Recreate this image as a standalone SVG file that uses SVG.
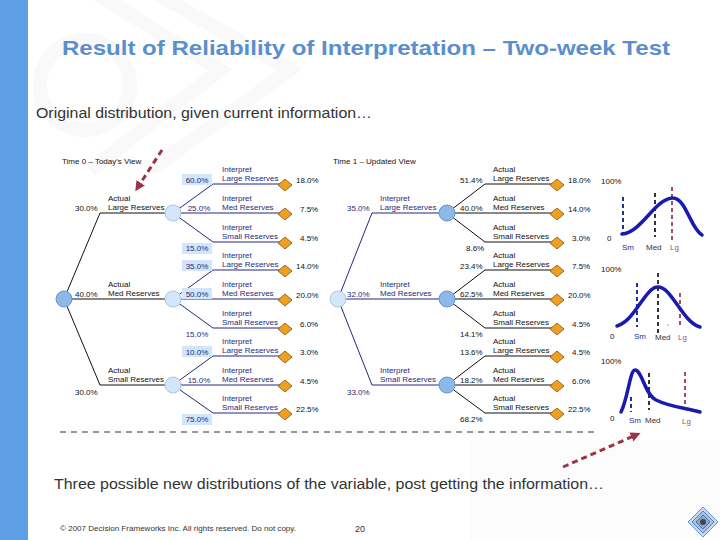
<svg xmlns="http://www.w3.org/2000/svg" width="720" height="540" viewBox="0 0 720 540">
<style>
text{font-family:"Liberation Sans",Arial,sans-serif}
.t8{font-size:8px}
.nv{fill:#1f2a7a}
.bk{fill:#111}
.ln{stroke:#111;stroke-width:1;fill:none}
.lb{stroke:#25287e;stroke-width:1;fill:none}
.cd{fill:#8db8ea;stroke:#6a95c8;stroke-width:1}
.cl{fill:#d4e6fa;stroke:#a8c6e8;stroke-width:1}
.dm{fill:#f0a020;stroke:#7a5010;stroke-width:0.8}
.bx{fill:#d3e5f8}
.cur{fill:none;stroke:#1a1ab0;stroke-width:3.5;stroke-linecap:round}
.db{stroke:#1a2fa8;stroke-width:2;stroke-dasharray:4 3}
.dk{stroke:#333;stroke-width:2;stroke-dasharray:4 3}
.dr{stroke:#a05060;stroke-width:2;stroke-dasharray:4 3}
.arr{stroke:#9c3448;stroke-width:3;stroke-dasharray:6 4;fill:none}
</style>
<defs>
<marker id="ah" markerWidth="10" markerHeight="10" refX="5" refY="5" orient="auto" markerUnits="userSpaceOnUse"><path d="M0,0 L10,5 L0,10 z" fill="#9c3448"/></marker>
<polygon id="dia" points="0,-6 7,0 0,6 -7,0" class="dm"/>
</defs>
<rect width="720" height="540" fill="#fff"/>
<g id="watermark" fill="none" stroke="#f9f9f9" stroke-width="14">
<polyline points="90,-10 220,70 90,170"/>
<polyline points="150,-10 290,70 150,170"/>
<circle cx="85" cy="85" r="45"/>
</g>
<rect x="470" y="440" width="250" height="100" fill="#fcfcfc"/>
<rect x="0" y="0" width="28" height="540" fill="#5d9fe2"/>
<text x="62" y="55" font-size="21" font-weight="bold" fill="#5b8fcc" textLength="608" lengthAdjust="spacingAndGlyphs">Result of Reliability of Interpretation – Two-week Test</text>
<text x="36" y="118" font-size="14" fill="#333" textLength="336" lengthAdjust="spacingAndGlyphs">Original distribution, given current information…</text>
<text class="t8 bk" x="62" y="164">Time 0 – Today's View</text>
<text class="t8 bk" x="333" y="164">Time 1 – Updated View</text>

<g id="connectors">
<path class="ln" d="M64,299 L100,213 L165,213 M64,299 L165,299 M64,299 L100,385 L165,385"/>
<path class="lb" d="M173,213 L213,184 L285,184 M173,213 L285,213 M173,213 L213,242 L285,242"/>
<path class="lb" d="M173,299 L213,270 L285,270 M173,299 L285,299 M173,299 L213,328 L285,328"/>
<path class="lb" d="M173,385 L213,356 L285,356 M173,385 L285,385 M173,385 L213,413 L285,413"/>
<path class="lb" d="M338,299 L372,213 L440,213 M338,299 L440,299 M338,299 L372,385 L440,385"/>
<path class="ln" d="M447,213 L485,184 L557,184 M447,213 L557,213 M447,213 L485,242 L557,242"/>
<path class="ln" d="M447,299 L485,270 L557,270 M447,299 L557,299 M447,299 L485,328 L557,328"/>
<path class="ln" d="M447,385 L485,356 L557,356 M447,385 L557,385 M447,385 L485,413 L557,413"/>
<line x1="60" y1="432" x2="595" y2="432" stroke="#333" stroke-width="1" stroke-dasharray="6 5"/>
<line class="arr" x1="162" y1="150" x2="138" y2="187" marker-end="url(#ah)"/>
<line class="arr" x1="563" y1="467" x2="636" y2="435" marker-end="url(#ah)"/>
</g>

<g id="left-root"><circle class="cd" cx="64" cy="299" r="8"/></g>
<g id="left-labels">
<text class="t8 bk" x="75" y="211">30.0%</text>
<text class="t8 bk" x="75" y="297">40.0%</text>
<text class="t8 bk" x="75" y="395">30.0%</text>
<text class="t8 bk" x="108" y="201">Actual</text><text class="t8 bk" x="108" y="210">Large Reserves</text>
<text class="t8 bk" x="108" y="287">Actual</text><text class="t8 bk" x="108" y="296">Med Reserves</text>
<text class="t8 bk" x="108" y="373">Actual</text><text class="t8 bk" x="108" y="382">Small Reserves</text>
</g>
<g id="left-c1"><circle class="cl" cx="173" cy="213" r="8"/></g>
<g id="left-c2"><circle class="cl" cx="173" cy="299" r="8"/></g>
<g id="left-c3"><circle class="cl" cx="173" cy="385" r="8"/></g>
<g id="left-probs" class="t8 nv" text-anchor="middle">
<rect class="bx" x="182" y="174" width="30" height="11"/><text x="197" y="183">60.0%</text>
<text x="199" y="211">25.0%</text>
<rect class="bx" x="182" y="243" width="30" height="11"/><text x="197" y="251">15.0%</text>
<rect class="bx" x="182" y="260" width="30" height="11"/><text x="197" y="269">35.0%</text>
<rect class="bx" x="182" y="288" width="30" height="11"/><text x="197" y="297">50.0%</text>
<text x="197" y="337">15.0%</text>
<rect class="bx" x="182" y="346" width="30" height="11"/><text x="197" y="355">10.0%</text>
<text x="199" y="383">15.0%</text>
<rect class="bx" x="182" y="414" width="30" height="11"/><text x="197" y="422">75.0%</text>
</g>
<g id="left-leaves">
<g class="t8 nv">
<text x="222" y="172">Interpret</text><text x="222" y="181">Large Reserves</text>
<text x="222" y="201">Interpret</text><text x="222" y="210">Med Reserves</text>
<text x="222" y="230">Interpret</text><text x="222" y="239">Small Reserves</text>
<text x="222" y="258">Interpret</text><text x="222" y="267">Large Reserves</text>
<text x="222" y="287">Interpret</text><text x="222" y="296">Med Reserves</text>
<text x="222" y="316">Interpret</text><text x="222" y="325">Small Reserves</text>
<text x="222" y="344">Interpret</text><text x="222" y="353">Large Reserves</text>
<text x="222" y="373">Interpret</text><text x="222" y="382">Med Reserves</text>
<text x="222" y="401">Interpret</text><text x="222" y="410">Small Reserves</text>
</g>
<use href="#dia" x="285" y="185"/><use href="#dia" x="285" y="214"/><use href="#dia" x="285" y="243"/>
<use href="#dia" x="285" y="271"/><use href="#dia" x="285" y="300"/><use href="#dia" x="285" y="329"/>
<use href="#dia" x="285" y="357"/><use href="#dia" x="285" y="386"/><use href="#dia" x="285" y="414"/>
<g class="t8 bk">
<text x="296" y="183">18.0%</text><text x="300" y="212">7.5%</text><text x="300" y="241">4.5%</text>
<text x="296" y="269">14.0%</text><text x="296" y="298">20.0%</text><text x="300" y="327">6.0%</text>
<text x="300" y="355">3.0%</text><text x="300" y="384">4.5%</text><text x="296" y="412">22.5%</text>
</g>
</g>

<g id="right-root"><circle class="cl" cx="338" cy="299" r="8"/></g>
<g id="right-labels">
<text class="t8 nv" x="347" y="211">35.0%</text>
<text class="t8 nv" x="347" y="297">32.0%</text>
<text class="t8 nv" x="347" y="395">33.0%</text>
<g class="t8 nv">
<text x="380" y="201">Interpret</text><text x="380" y="210">Large Reserves</text>
<text x="380" y="287">Interpret</text><text x="380" y="296">Med Reserves</text>
<text x="380" y="373">Interpret</text><text x="380" y="382">Small Reserves</text>
</g>
</g>
<g id="right-c1"><circle class="cd" cx="447" cy="213" r="8"/></g>
<g id="right-c2"><circle class="cd" cx="447" cy="299" r="8"/></g>
<g id="right-c3"><circle class="cd" cx="447" cy="385" r="8"/></g>
<g id="right-probs" class="t8 bk">
<text x="460" y="183">51.4%</text><text x="460" y="211">40.0%</text><text x="466" y="251">8.6%</text>
<text x="460" y="269">23.4%</text><text x="460" y="297">62.5%</text><text x="460" y="337">14.1%</text>
<text x="460" y="355">13.6%</text><text x="460" y="383">18.2%</text><text x="460" y="422">68.2%</text>
</g>
<g id="right-leaves">
<g class="t8 bk">
<text x="493" y="172">Actual</text><text x="493" y="181">Large Reserves</text>
<text x="493" y="201">Actual</text><text x="493" y="210">Med Reserves</text>
<text x="493" y="230">Actual</text><text x="493" y="239">Small Reserves</text>
<text x="493" y="258">Actual</text><text x="493" y="267">Large Reserves</text>
<text x="493" y="287">Actual</text><text x="493" y="296">Med Reserves</text>
<text x="493" y="316">Actual</text><text x="493" y="325">Small Reserves</text>
<text x="493" y="344">Actual</text><text x="493" y="353">Large Reserves</text>
<text x="493" y="373">Actual</text><text x="493" y="382">Med Reserves</text>
<text x="493" y="401">Actual</text><text x="493" y="410">Small Reserves</text>
</g>
<use href="#dia" x="557" y="185"/><use href="#dia" x="557" y="214"/><use href="#dia" x="557" y="243"/>
<use href="#dia" x="557" y="271"/><use href="#dia" x="557" y="300"/><use href="#dia" x="557" y="329"/>
<use href="#dia" x="557" y="357"/><use href="#dia" x="557" y="386"/><use href="#dia" x="557" y="414"/>
<g class="t8 bk">
<text x="568" y="183">18.0%</text><text x="568" y="212">14.0%</text><text x="572" y="241">3.0%</text>
<text x="572" y="269">7.5%</text><text x="568" y="298">20.0%</text><text x="572" y="327">4.5%</text>
<text x="572" y="355">4.5%</text><text x="572" y="384">6.0%</text><text x="568" y="412">22.5%</text>
</g>
</g>

<g id="chart1">
<text class="t8 bk" x="601" y="184">100%</text>
<text class="t8 bk" x="607" y="241">0</text>
<line class="db" x1="623" y1="197" x2="623" y2="233"/>
<line class="dk" x1="655" y1="193" x2="655" y2="237"/>
<line class="dr" x1="672" y1="187" x2="672" y2="240"/>
<path class="cur" d="M622,234 C642,232 654,200 672,198 C686,197 690,228 702,235"/>
<text class="t8" x="622" y="250" fill="#1a2fa8">Sm</text>
<text class="t8" x="646" y="250" fill="#333">Med</text>
<text class="t8" x="670" y="250" fill="#a05060">Lg</text>
</g>
<g id="chart2">
<text class="t8 bk" x="601" y="272">100%</text>
<text class="t8 bk" x="610" y="339">0</text>
<line class="db" x1="637" y1="283" x2="637" y2="327"/>
<line class="dk" x1="658" y1="273" x2="658" y2="333"/>
<line class="dr" x1="680" y1="293" x2="680" y2="327"/>
<path class="cur" d="M617,326 C636,320 645,287 658,287 C672,287 682,322 700,327"/>
<circle cx="668" cy="325" r="0.6" fill="#333"/>
<text class="t8" x="634" y="339" fill="#1a2fa8">Sm</text>
<text class="t8" x="655" y="340" fill="#333">Med</text>
<text class="t8" x="678" y="340" fill="#a05060">Lg</text>
</g>
<g id="chart3">
<text class="t8 bk" x="601" y="364">100%</text>
<text class="t8 bk" x="610" y="421">0</text>
<line class="db" x1="631" y1="397" x2="631" y2="412"/>
<line class="dk" x1="649" y1="373" x2="649" y2="410"/>
<line class="dr" x1="685" y1="372" x2="685" y2="410"/>
<path class="cur" d="M621,412 C628,398 630,370 635,370 C642,370 645,395 656,400 C670,407 686,408 700,412"/>
<text class="t8" x="629" y="423" fill="#1a2fa8">Sm</text>
<text class="t8" x="645" y="423" fill="#333">Med</text>
<text class="t8" x="682" y="424" fill="#a05060">Lg</text>
</g>

<text x="54" y="489" font-size="14" fill="#333" textLength="550" lengthAdjust="spacingAndGlyphs">Three possible new distributions of the variable, post getting the information…</text>
<text x="60" y="531" font-size="7.2" fill="#333" textLength="236" lengthAdjust="spacingAndGlyphs">© 2007 Decision Frameworks Inc. All rights reserved. Do not copy.</text>
<text x="355" y="532" font-size="9" fill="#333">20</text>
<g id="logo">
<polygon points="703,507 718,522 703,537 688,522" fill="#c5d8f0" stroke="#6f95c8"/>
<polygon points="703,511 714,522 703,533 692,522" fill="#a8c2e6" stroke="#5a82b8"/>
<polygon points="703,515 710,522 703,529 696,522" fill="#8aa8d4" stroke="#4a6fa5"/>
<circle cx="703" cy="522" r="3" fill="#444"/>
</g>
</svg>
